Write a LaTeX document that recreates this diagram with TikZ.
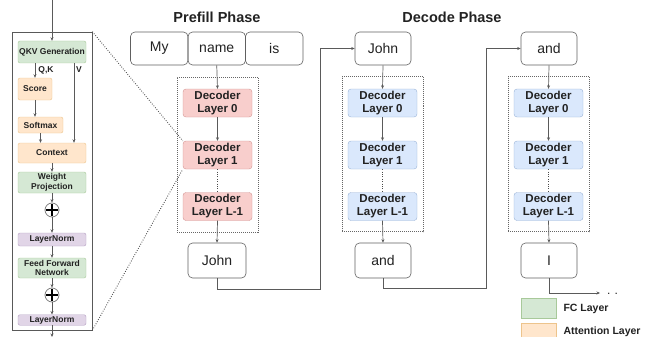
\documentclass[tikz,border=0pt]{standalone}
\usepackage{fontspec}
\setmainfont{Liberation Sans}
\usetikzlibrary{arrows.meta}
\definecolor{pinkF}{HTML}{F8CECC}\definecolor{pinkD}{HTML}{D39593}
\definecolor{blueF}{HTML}{DAE8FC}\definecolor{blueD}{HTML}{9AB3D6}
\definecolor{greenF}{HTML}{D5E8D4}\definecolor{greenD}{HTML}{A8C99A}
\definecolor{orF}{HTML}{FFE6CC}\definecolor{orD}{HTML}{EDC48C}
\definecolor{purF}{HTML}{E1D5E7}\definecolor{purD}{HTML}{B39FC2}
\definecolor{lineC}{HTML}{5A5A5A}
\definecolor{txt}{HTML}{222222}
\begin{document}
\begin{tikzpicture}[x=1pt,y=-1pt,
  every node/.style={text=txt},
  arr/.style={draw=lineC,line width=0.7pt,-{Stealth[length=3.5pt,width=3pt]}},
  tok/.style={draw=gray!75!black,line width=0.6pt,rounded corners=4.5pt,minimum width=57pt,minimum height=33pt,inner sep=0pt,font=\fontsize{14}{16}\selectfont},
  dec/.style={rounded corners=3pt,minimum width=69pt,minimum height=28pt,inner sep=0pt,align=center,font=\fontsize{11.5}{13}\selectfont\bfseries},
  pre/.style={dec,fill=pinkF,draw=pinkD},
  dcd/.style={dec,fill=blueF,draw=blueD},
  grp/.style={draw=gray!80!black,line width=0.5pt,dash pattern=on 1pt off 1pt,minimum width=81pt,minimum height=155pt,inner sep=0pt},
  small/.style={rounded corners=2pt,inner sep=0pt,align=center,minimum width=68pt,font=\fontsize{8.5}{9.5}\selectfont\bfseries},
  fc/.style={small,fill=greenF,draw=greenD},
  att/.style={small,fill=orF,draw=orD},
  ln/.style={small,fill=purF,draw=purD},
  addc/.style={circle,draw=gray,line width=0.8pt,minimum size=14pt,inner sep=0pt},
  title/.style={font=\fontsize{14.5}{16}\selectfont\bfseries},
  dots/.style={draw=gray!60!black,line width=0.9pt,dash pattern=on 0.8pt off 1.6pt}
]
\useasboundingbox (0,0) rectangle (658,337);

% ---------- left panel ----------
\node[draw=gray!70!black,line width=0.7pt,minimum width=80pt,minimum height=298pt,inner sep=0pt] (panel) at (52,181) {};
\node[fc,minimum height=22pt] (qkv) at (52,52) {QKV Generation};
\node[att,minimum width=34pt,minimum height=22pt] (score) at (35,89) {Score};
\node[att,minimum width=45pt,minimum height=16pt] (soft) at (40.5,125) {Softmax};
\node[att,minimum height=20pt] (ctx) at (52,153) {Context};
\node[fc,minimum height=21pt] (wp) at (52,182.5) {Weight\\Projection};
\node[addc] (add1) at (52,210) {};
\node[ln,minimum height=13pt] (ln1) at (52,239.5) {LayerNorm};
\node[fc,minimum height=20pt] (ffn) at (52,268) {Feed Forward\\Network};
\node[addc] (add2) at (52,295) {};
\node[ln,minimum height=10.5pt] (ln2) at (52,320) {LayerNorm};
\foreach \c in {add1,add2}{
  \draw[line width=2.3pt] ([xshift=-6.2pt]\c.center) -- ([xshift=6.2pt]\c.center);
  \draw[line width=2.3pt] ([yshift=-6.2pt]\c.center) -- ([yshift=6.2pt]\c.center);
}
\coordinate (pin) at (52,0);
\coordinate (pout) at (52,337);
\coordinate (vx) at (74,0);
\draw[arr] (pin) -- (qkv.north);
\draw[arr] (qkv.south -| score.north) -- (score.north);
\node[font=\fontsize{8.5}{9.5}\selectfont\bfseries] (qk) at (46,70) {Q,K};
\draw[arr] (vx |- qkv.south) -- (vx |- ctx.north);
\node[font=\fontsize{8.5}{9.5}\selectfont\bfseries] (vl) at (79,70) {V};
\draw[arr] (score.south) -- (score.south |- soft.north);
\draw[arr] (soft.south) -- (soft.south |- ctx.north);
\draw[arr] (ctx.south) -- (wp.north);
\draw[arr] (wp.south) -- (add1.north);
\draw[arr] (add1.south) -- (ln1.north);
\draw[arr] (ln1.south) -- (ffn.north);
\draw[arr] (ffn.south) -- (add2.north);
\draw[arr] (add2.south) -- (ln2.north);
\draw[arr] (ln2.south) -- (pout);

% ---------- prefill ----------
\node[title] (tp) at (217,17) {Prefill Phase};
\node[tok,minimum width=57.5pt] (my) at (159.25,48.5) {My};
\node[tok,minimum width=57.5pt] (name) at (216.75,48.5) {name};
\node[tok,minimum width=57.5pt] (is) at (274.25,48.5) {is};
\node[grp] (pb) at (217.5,154.5) {};
\node[pre] (p0) at (217.5,103) {Decoder\\Layer 0};
\node[pre] (p1) at (217.5,155) {Decoder\\Layer 1};
\node[pre] (p2) at (217.5,206.5) {Decoder\\Layer L-1};
\node[tok,minimum width=58pt,minimum height=35pt] (j1) at (217,260.5) {John};
\draw[arr] (name.south) -- (p0.north);
\draw[arr] (p0.south) -- (p1.north);
\draw[dots,line width=0.6pt] (p1.south) -- (p2.north);
\draw[arr] (p2.south) -- (j1.north);
\draw[dots] (panel.north east) -- (p1.north west);
\draw[dots] (panel.south east) -- (p1.south west);

% ---------- decode 1 ----------
\node[title] (td) at (452,17) {Decode Phase};
\node[tok,minimum width=56pt] (jd) at (383,48.5) {John};
\node[grp] (db1) at (382.5,154) {};
\node[dcd] (d0) at (382.5,103) {Decoder\\Layer 0};
\node[dcd] (d1) at (382.5,155) {Decoder\\Layer 1};
\node[dcd] (d2) at (382.5,206.5) {Decoder\\Layer L-1};
\node[tok,minimum width=56pt,minimum height=35pt] (a1) at (383,260.5) {and};
\draw[arr] (jd.south) -- (d0.north);
\draw[arr] (d0.south) -- (d1.north);
\draw[dots,line width=0.6pt] (d1.south) -- (d2.north);
\draw[arr] (d2.south) -- (a1.north);

% ---------- decode 2 ----------
\node[tok,minimum width=56pt] (ad) at (549,48.5) {and};
\node[grp] (db2) at (548.5,154) {};
\node[dcd] (e0) at (548.5,103) {Decoder\\Layer 0};
\node[dcd] (e1) at (548.5,155) {Decoder\\Layer 1};
\node[dcd] (e2) at (548.5,206.5) {Decoder\\Layer L-1};
\node[tok,minimum width=56pt,minimum height=35pt] (i1) at (549,260.5) {I};
\draw[arr] (ad.south) -- (e0.north);
\draw[arr] (e0.south) -- (e1.north);
\draw[dots,line width=0.6pt] (e1.south) -- (e2.north);
\draw[arr] (e2.south) -- (i1.north);

% ---------- routing ----------
\coordinate (t1) at (320,289);
\coordinate (t2) at (486,288.5);
\coordinate (t3) at (600,293);
\draw[arr] (j1.south) |- (t1) |- (jd.west);
\draw[arr] (a1.south) |- (t2) |- (ad.west);
\draw[arr] (i1.south) |- (t3);
\node[anchor=base west,inner sep=0pt,font=\fontsize{12}{14}\selectfont] (more) at (607,294.5) {.\,\,.};

% ---------- legend ----------
\node[fill=greenF,draw=greenD,minimum width=35pt,minimum height=20pt,inner sep=0pt] (lg1) at (538.5,308.5) {};
\node[anchor=west,font=\fontsize{10.5}{12}\selectfont\bfseries] (lt1) at (560,309) {FC Layer};
\node[fill=orF,draw=orD,minimum width=35pt,minimum height=20pt,inner sep=0pt] (lg2) at (538.5,333) {};
\node[anchor=west,font=\fontsize{10.5}{12}\selectfont\bfseries] (lt2) at (560,332) {Attention Layer};
\end{tikzpicture}
\end{document}
